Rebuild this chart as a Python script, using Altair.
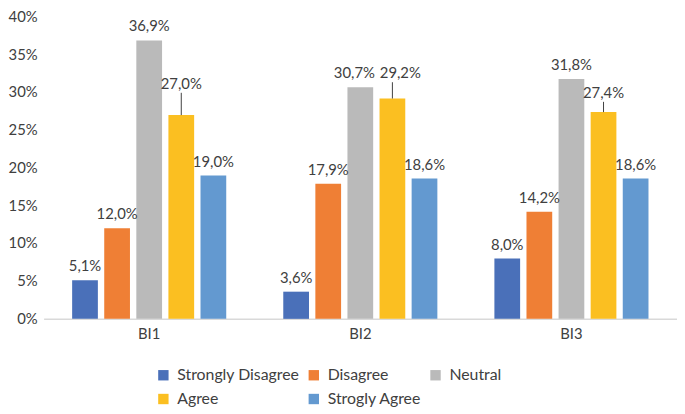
import altair as alt
import pandas as pd

groups = ["BI1", "BI2", "BI3"]
series = ["Strongly Disagree", "Disagree", "Neutral", "Agree", "Strogly Agree"]
colors = ["#4A70B9", "#EF7F35", "#BABABA", "#FBBF21", "#6399D0"]
values = {
    "BI1": [5.1, 12.0, 36.9, 27.0, 19.0],
    "BI2": [3.6, 17.9, 30.7, 29.2, 18.6],
    "BI3": [8.0, 14.2, 31.8, 27.4, 18.6],
}
# extra lift (in %) of labels drawn with a leader line (Agree labels)
lift = {
    "BI1": [0, 0, 0, 2.3, 0],
    "BI2": [0, 0, 0, 1.5, 0],
    "BI3": [0, 0, 0, 0.7, 0],
}
yticks = [0, 5, 10, 15, 20, 25, 30, 35, 40]

rows = []
for g in groups:
    for i, s in enumerate(series):
        v = values[g][i]
        rows.append({
            "group": g, "series": s, "order": i, "value": v,
            "labelpos": v + lift[g][i],
            "lift": lift[g][i],
            "label": f"{v:.1f}".replace(".", ",") + "%",
        })
df = pd.DataFrame(rows)
ticks_df = pd.DataFrame({"tick": yticks, "ticklabel": [f"{t}%" for t in yticks]})

FONT = "Lato"
TXT = "#404040"

x = alt.X("group:N", sort=groups, title=None,
          scale=alt.Scale(paddingInner=0.24, paddingOuter=0.12),
          axis=alt.Axis(labelAngle=0, ticks=False, domainColor="#D9D9D9",
                        domainWidth=1.5, labelFontSize=15, labelColor=TXT,
                        labelPadding=8, labelFont=FONT))
xo = alt.XOffset("series:N", sort=series,
                 scale=alt.Scale(paddingInner=0.2, paddingOuter=0.1))
color = alt.Color("series:N", sort=series,
                  scale=alt.Scale(domain=series, range=colors),
                  legend=alt.Legend(title=None, orient="none", legendX=113, legendY=354,
                                    direction="horizontal", columns=3,
                                    symbolType="square", symbolSize=110,
                                    symbolStrokeWidth=0, labelFontSize=16,
                                    labelFont=FONT, labelColor=TXT,
                                    columnPadding=6, rowPadding=8, padding=0,
                                    labelOffset=6, gridAlign="each"))

yscale = alt.Scale(domain=[0, 40], nice=False)

base = alt.Chart(df)

bars = base.mark_bar(size=26).encode(
    x=x, xOffset=xo, y=alt.Y("value:Q", scale=yscale, title=None, axis=None),
    color=color)

ylab = alt.Y("labelpos:Q", scale=yscale, title=None, axis=None)

normal = base.transform_filter(
    "!(datum.group == 'BI2' && (datum.series == 'Neutral' || datum.series == 'Agree'))"
)
labels = normal.mark_text(baseline="middle", dy=-14, fontSize=15, font=FONT,
                          color=TXT).encode(x=x, xOffset=xo, y=ylab, text="label:N")

lab_n = base.transform_filter("datum.group == 'BI2' && datum.series == 'Neutral'").mark_text(
    baseline="middle", dy=-14, dx=-6, fontSize=15, font=FONT, color=TXT).encode(
    x=x, xOffset=xo, y=ylab, text="label:N")
lab_a = base.transform_filter("datum.group == 'BI2' && datum.series == 'Agree'").mark_text(
    baseline="middle", dy=-14, dx=8, fontSize=15, font=FONT, color=TXT).encode(
    x=x, xOffset=xo, y=ylab, text="label:N")

leaders = base.transform_filter("datum.lift > 0").mark_rule(
    color=TXT, strokeWidth=1, y2Offset=-5).encode(
    x=x, xOffset=xo, y=alt.Y("value:Q", scale=yscale, title=None, axis=None),
    y2="labelpos:Q")

# y-axis tick labels (5% steps) placed through the shared y scale
ytext = alt.Chart(ticks_df).mark_text(
    align="right", baseline="middle", fontSize=15, font=FONT, color=TXT, dx=-6
).encode(x=alt.value(0), y=alt.Y("tick:Q", scale=yscale, title=None, axis=None),
         text="ticklabel:N")

chart = alt.layer(bars, leaders, labels, lab_n, lab_a, ytext).properties(
    width=640, height=305, padding={"left": 0, "top": 0, "right": 0, "bottom": 0}
).configure(
    font=FONT,
    view=alt.ViewConfig(stroke=None),
)

chart.save("out.html", embed_options={"renderer": "svg", "actions": False})
